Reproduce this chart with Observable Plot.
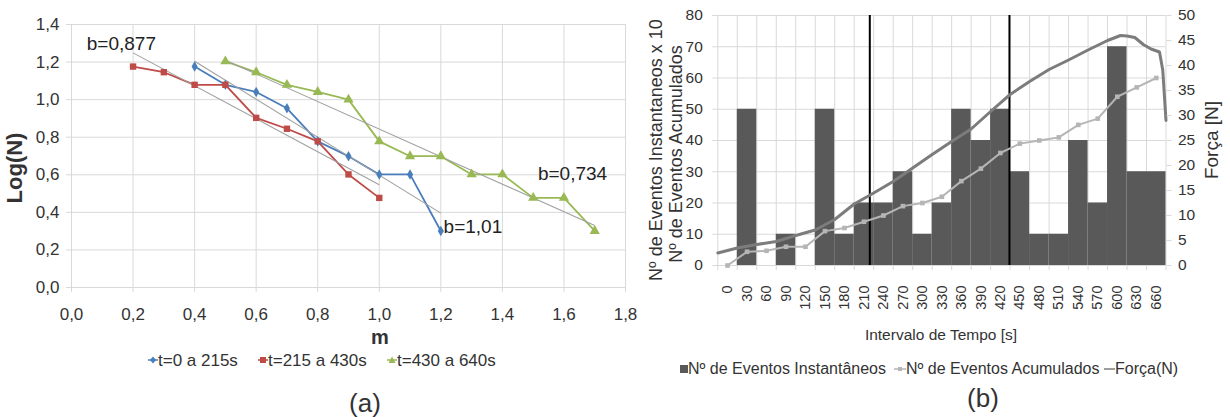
<!DOCTYPE html>
<html><head><meta charset="utf-8">
<script src="https://cdn.jsdelivr.net/npm/d3@7"></script>
<script src="https://cdn.jsdelivr.net/npm/@observablehq/plot@0.6"></script>
<style>
body{margin:0;background:#fff;}
#fig{position:relative;width:1230px;height:417px;overflow:hidden;font-family:"Liberation Sans",Arial,sans-serif;color:#333;}
#fig svg{position:absolute;top:0;}
.abs{position:absolute;white-space:nowrap;line-height:1;}
</style></head><body><div id="fig"></div>
<script>
// ---------- Panel (a) data ----------
const seriesA = ["t=0 a 215s", "t=215 a 430s", "t=430 a 640s"];
const colorsA = ["#4a7ebb", "#be4b48", "#98b954"];
const mBlue = [0.4, 0.5, 0.6, 0.7, 0.8, 0.9, 1.0, 1.1, 1.2];
const logBlue = [1.176, 1.079, 1.041, 0.954, 0.778, 0.699, 0.602, 0.602, 0.301];
const mRed = [0.2, 0.3, 0.4, 0.5, 0.6, 0.7, 0.8, 0.9, 1.0];
const logRed = [1.176, 1.146, 1.079, 1.079, 0.903, 0.845, 0.778, 0.602, 0.477];
const mGreen = [0.5, 0.6, 0.7, 0.8, 0.9, 1.0, 1.1, 1.2, 1.3, 1.4, 1.5, 1.6, 1.7];
const logGreen = [1.204, 1.146, 1.079, 1.041, 1.0, 0.778, 0.699, 0.699, 0.602, 0.602, 0.477, 0.477, 0.301];
const trendM1 = [0.4, 0.2, 0.5];
const trendM2 = [1.2, 1.0, 1.7];
const trendV1 = [1.204, 1.249, 1.21];
const trendV2 = [0.396, 0.547, 0.33];
const bLabels = ["b=1,01", "b=0,877", "b=0,734"];
const bLabelM = [1.209, 0.162, 1.628];
const bLabelV = [0.325, 1.296, 0.604];
const xTicksA = [0, 0.2, 0.4, 0.6, 0.8, 1.0, 1.2, 1.4, 1.6, 1.8];
const yTicksA = [0, 0.2, 0.4, 0.6, 0.8, 1.0, 1.2, 1.4];

// ---------- Panel (b) data ----------
const tempos = [0, 30, 60, 90, 120, 150, 180, 210, 240, 270, 300, 330, 360, 390, 420, 450, 480, 510, 540, 570, 600, 630, 660];
const instantaneos = [0, 50, 0, 10, 0, 50, 10, 20, 20, 30, 10, 20, 50, 40, 50, 30, 10, 10, 40, 20, 70, 30, 30];
const acumulados = [0, 4.4, 4.7, 6, 6, 11, 12, 14, 16, 19, 20, 22, 27, 31, 36, 39, 40, 41, 45, 47, 54, 57, 60];
const forcaT = [-15, 15, 45, 75, 105, 135, 165, 195, 225, 255, 285, 315, 345, 375, 405, 435, 465, 495, 525, 555, 585, 605, 615, 627, 640, 652, 665, 670, 675];
const forcaN = [2.5, 3.5, 4.2, 4.8, 6.0, 7.1, 9.2, 12.3, 14.5, 16.8, 19.5, 22.2, 24.8, 27.3, 30.8, 34.2, 36.8, 39.2, 41.1, 43.1, 45.0, 46.0, 45.9, 45.6, 44.2, 43.3, 42.7, 39.1, 29];
const marcos = [219, 434];
const yTicksB = [0, 10, 20, 30, 40, 50, 60, 70, 80];
const yTicksRight = [0, 5, 10, 15, 20, 25, 30, 35, 40, 45, 50];
const binEdges = [-15, 15, 45, 75, 105, 135, 165, 195, 225, 255, 285, 315, 345, 375, 405, 435, 465, 495, 525, 555, 585, 615, 645, 675];

const FONT = '"Liberation Sans", Arial, sans-serif';
const fig = document.getElementById("fig");
const grid = "#d9d9d9";

// ---------- Panel (a) ----------
const rowsA = [
  mBlue.map((m, i) => ({m, v: logBlue[i], s: 0})),
  mRed.map((m, i) => ({m, v: logRed[i], s: 1})),
  mGreen.map((m, i) => ({m, v: logGreen[i], s: 2}))
];
const trends = trendM1.map((m, i) => ({m1: m, m2: trendM2[i], v1: trendV1[i], v2: trendV2[i]}));
const bRows = bLabels.map((t, i) => ({t, m: bLabelM[i], v: bLabelV[i]}));
const symbols = ["diamond", "square", "triangle"];
const radii = [3.2, 3.6, 3.8];
const fmtA = d => d.toFixed(1).replace(".", ",");

const plotA = Plot.plot({
  width: 630, height: 417,
  marginLeft: 71, marginRight: 5, marginTop: 24, marginBottom: 130,
  x: {domain: [0, 1.8]},
  y: {domain: [0, 1.4]},
  style: {fontFamily: FONT, background: "transparent", overflow: "visible"},
  marks: [
    Plot.gridX(xTicksA, {stroke: grid, strokeOpacity: 1}),
    Plot.gridY(yTicksA, {stroke: grid, strokeOpacity: 1}),
    Plot.axisX(xTicksA, {tickSize: 5, tickPadding: 15, stroke: grid, fill: "#333", fontSize: 17, tickFormat: fmtA, label: null}),
    Plot.axisY(yTicksA, {tickSize: 5, tickPadding: 7, stroke: grid, fill: "#333", fontSize: 17, tickFormat: fmtA, label: null}),
    ...rowsA.map((r, i) => Plot.line(r, {x: "m", y: "v", stroke: colorsA[i], strokeWidth: 1.8})),
    Plot.link(trends, {x1: "m1", y1: "v1", x2: "m2", y2: "v2", stroke: "#a0a0a0", strokeWidth: 1.1}),
    ...rowsA.map((r, i) => Plot.dot(r, {x: "m", y: "v", symbol: symbols[i], r: radii[i], fill: colorsA[i], stroke: "none"})),
    Plot.text(bRows.slice(0, 1), {x: "m", y: "v", text: "t", textAnchor: "start", fontSize: 19, fill: "#222"}),
    Plot.text(bRows.slice(1), {x: "m", y: "v", text: "t", textAnchor: "middle", fontSize: 19, fill: "#222"})
  ]
});
plotA.style.left = "0px";
fig.appendChild(plotA);

// ---------- Panel (b) ----------
const ratio = 80 / 50;
const rowsB = tempos.map((t, i) => ({t, n: instantaneos[i], a: acumulados[i]}));
const forceRows = forcaT.map((t, i) => ({t, f: forcaN[i]}));

const plotB = Plot.plot({
  width: 600, height: 417,
  marginLeft: 87.3, marginRight: 64.5, marginTop: 15, marginBottom: 152,
  x: {domain: [-15, 675]},
  y: {domain: [0, 80]},
  style: {fontFamily: FONT, background: "transparent", overflow: "visible"},
  marks: [
    Plot.gridY(yTicksB, {stroke: grid, strokeOpacity: 1}),
    Plot.gridX(binEdges, {stroke: grid, strokeOpacity: 1}),
    Plot.rect(rowsB, {x1: d => d.t - 15, x2: d => d.t + 15, y1: 0, y2: "n", fill: "#595959"}),
    Plot.ruleX(marcos, {stroke: "#000", strokeWidth: 2}),
    Plot.line(forceRows, {x: "t", y: d => d.f * ratio, stroke: "#7c7c7c", strokeWidth: 3}),
    Plot.line(rowsB, {x: "t", y: "a", stroke: "#b5b5b5", strokeWidth: 2}),
    Plot.dot(rowsB, {x: "t", y: "a", symbol: "square", r: 2.6, fill: "#b5b5b5", stroke: "none"}),
    Plot.axisY(yTicksB, {anchor: "left", tickSize: 5, tickPadding: 10, stroke: grid, fill: "#333", fontSize: 15.5, label: null}),
    Plot.axisY(yTicksRight.map(v => v * ratio), {anchor: "right", tickSize: 5, tickPadding: 7, stroke: grid, fill: "#333", fontSize: 15.5, tickFormat: d => String(Math.round(d / ratio)), label: null}),
    Plot.axisX(binEdges, {tickSize: 5, stroke: grid, tickFormat: () => "", label: null}),
    Plot.axisX(tempos, {tickSize: 0, tickPadding: 20, tickRotate: -90, fill: "#333", fontSize: 14.5, label: null})
  ]
});
plotB.style.left = "630px";
fig.appendChild(plotB);

// ---------- text & legends ----------
function label(txt, x, y, size, opts = {}) {
  const d = document.createElement("div");
  d.className = "abs";
  d.textContent = txt;
  d.style.left = x + "px";
  d.style.top = y + "px";
  d.style.fontSize = size + "px";
  if (opts.bold) d.style.fontWeight = "bold";
  const tx = opts.anchor === "start" ? "0" : "-50%";
  d.style.transform = `translate(${tx},-50%)` + (opts.rotate ? ` rotate(${opts.rotate}deg)` : "");
  fig.appendChild(d);
  return d;
}
function marker(x, y, w, svgInner) {
  const d = document.createElement("div");
  d.className = "abs";
  d.style.left = x + "px";
  d.style.top = (y - 6) + "px";
  d.innerHTML = `<svg width="${w}" height="12" style="position:static;display:block">${svgInner}</svg>`;
  fig.appendChild(d);
}

label("Log(N)", 15, 168, 22, {bold: true, rotate: -90});
label("m", 380, 337, 20, {bold: true});
label("(a)", 365, 403, 26);
// legend (a)
const legAx = [148, 258, 387];
const markSvg = [
  c => `<line x1="0" y1="6" x2="10" y2="6" stroke="${c}" stroke-width="1.5"/><path d="M5 2.5L8 6L5 9.5L2 6Z" fill="${c}"/>`,
  c => `<line x1="0" y1="6" x2="10" y2="6" stroke="${c}" stroke-width="1.5"/><rect x="2" y="3" width="6" height="6" fill="${c}"/>`,
  c => `<line x1="0" y1="6" x2="10" y2="6" stroke="${c}" stroke-width="1.5"/><path d="M5 2.5L8.5 9L1.5 9Z" fill="${c}"/>`
];
seriesA.forEach((s, i) => {
  marker(legAx[i], 360, 10, markSvg[i](colorsA[i]));
  label(s, legAx[i] + 10, 360, 17, {anchor: "start"});
});

// panel (b) titles
label("Nº de Eventos Instantaneos x 10", 656, 150, 18, {rotate: -90});
label("Nº de Eventos Acumulados", 676, 154, 18, {rotate: -90});
label("Força [N]", 1211, 140, 19, {rotate: -90});
label("Intervalo de Tempo [s]", 941, 335, 15.5);
label("(b)", 983, 398, 26);
// legend (b)
const legB = ["Nº de Eventos Instantâneos", "Nº de Eventos Acumulados", "Força(N)"];
marker(680, 369, 8, `<rect x="0" y="2" width="8" height="8" fill="#595959"/>`);
label(legB[0], 688, 369, 16, {anchor: "start"});
marker(894, 369, 12, `<line x1="0" y1="6" x2="12" y2="6" stroke="#b5b5b5" stroke-width="1.5"/><rect x="4" y="4" width="4" height="4" fill="#b5b5b5"/>`);
label(legB[1], 906, 369, 16, {anchor: "start"});
marker(1104, 369, 11, `<line x1="0" y1="6" x2="11" y2="6" stroke="#7c7c7c" stroke-width="1.5"/>`);
label(legB[2], 1115, 369, 16, {anchor: "start"});
</script>
</body></html>
